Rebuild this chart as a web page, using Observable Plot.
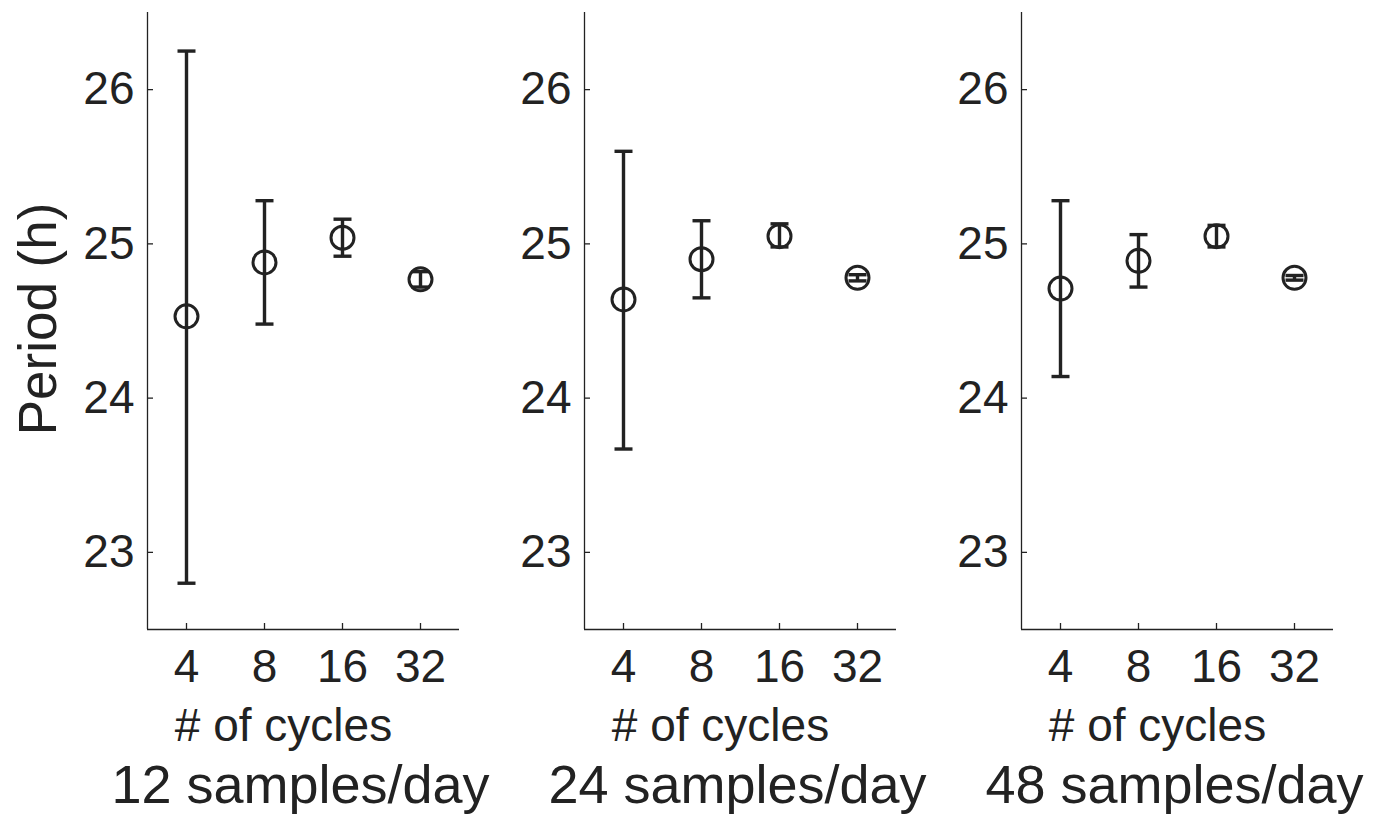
<!DOCTYPE html>
<html>
<head>
<meta charset="utf-8">
<script src="https://cdn.jsdelivr.net/npm/d3@7"></script>
<script src="https://cdn.jsdelivr.net/npm/@observablehq/plot@0.6"></script>
<style>
  html, body { margin: 0; padding: 0; background: #fff; }
  #wrap { position: relative; width: 1378px; height: 816px; overflow: hidden; font-family: "Liberation Sans", Arial, sans-serif; }
  #wrap > div { position: absolute; top: 0; }
</style>
</head>
<body>
<div id="wrap"></div>
<script>
// ---- data ----
const cycles = [4, 8, 16, 32];
const panelTitles = ["12 samples/day", "24 samples/day", "48 samples/day"];
const yTicks = [23, 24, 25, 26];
const yLabel = "Period (h)";
const xLabel = "# of cycles";

const mean12 = [24.53, 24.88, 25.04, 24.77];
const lo12   = [22.80, 24.48, 24.92, 24.72];
const hi12   = [26.25, 25.28, 25.16, 24.82];

const mean24 = [24.64, 24.90, 25.05, 24.78];
const lo24   = [23.67, 24.65, 24.98, 24.76];
const hi24   = [25.60, 25.15, 25.13, 24.80];

const mean48 = [24.71, 24.89, 25.05, 24.78];
const lo48   = [24.14, 24.72, 24.98, 24.765];
const hi48   = [25.28, 25.06, 25.12, 24.795];

const series = [
  {mean: mean12, lo: lo12, hi: hi12},
  {mean: mean24, lo: lo24, hi: hi24},
  {mean: mean48, lo: lo48, hi: hi48}
];

// ---- drawing ----
const ink = "#222";
const font = "'Liberation Sans', Arial, sans-serif";
const xDomain = [4 / Math.SQRT2, 32 * Math.SQRT2];
const yDomain = [22.5, 26.5];
const capSymbol = {
  draw(context, size) {
    const r = Math.sqrt(size / Math.PI);
    context.moveTo(-r, 0);
    context.lineTo(r, 0);
  }
};

const wrap = document.getElementById("wrap");
const panelLeft = [0, 437, 874];

series.forEach((s, i) => {
  const data = cycles.map((c, j) => ({cycles: c, mean: s.mean[j], lo: s.lo[j], hi: s.hi[j]}));
  const marks = [
    Plot.ruleX([xDomain[0]], {stroke: ink, strokeWidth: 1.3}),
    Plot.ruleY([yDomain[0]], {stroke: ink, strokeWidth: 1.3}),
    Plot.axisY({ticks: yTicks, tickFormat: d => String(d), tickSize: -6, tickPadding: 19, fontSize: 46, label: null, color: ink, strokeWidth: 1.3}),
    Plot.axisX({ticks: cycles, tickFormat: d => String(d), tickSize: -6, tickPadding: 26, fontSize: 46, label: null, color: ink, strokeWidth: 1.3}),
    Plot.ruleX(data, {x: "cycles", y1: "lo", y2: "hi", stroke: ink, strokeWidth: 3.4}),
    Plot.dot(data, {x: "cycles", y: "hi", symbol: capSymbol, r: 9, stroke: ink, strokeWidth: 3.4, fill: "none"}),
    Plot.dot(data, {x: "cycles", y: "lo", symbol: capSymbol, r: 9, stroke: ink, strokeWidth: 3.4, fill: "none"}),
    Plot.dot(data, {x: "cycles", y: "mean", r: 11.5, stroke: ink, strokeWidth: 3, fill: "none"}),
    Plot.text([xLabel], {text: d => d, frameAnchor: "bottom", lineAnchor: "bottom", dy: 111, dx: -20, fontSize: 46, fill: ink}),
    Plot.text([panelTitles[i]], {text: d => d, frameAnchor: "bottom", lineAnchor: "bottom", dy: 173, dx: -3, fontSize: 54, fill: ink})
  ];
  if (i === 0) {
    marks.push(Plot.text([yLabel], {text: d => d, frameAnchor: "left", rotate: -90, textAnchor: "middle", lineAnchor: "bottom", dx: -92, dy: -2, fontSize: 53, fill: ink}));
  }
  const chart = Plot.plot({
    width: 504,
    height: 816,
    marginLeft: 147,
    marginRight: 45,
    marginTop: 12,
    marginBottom: 187,
    style: {background: "transparent", overflow: "visible", fontFamily: font, color: ink},
    x: {type: "log", base: 2, domain: xDomain},
    y: {domain: yDomain},
    marks
  });
  const holder = document.createElement("div");
  holder.style.left = panelLeft[i] + "px";
  holder.appendChild(chart);
  wrap.appendChild(holder);
});
</script>
</body>
</html>
